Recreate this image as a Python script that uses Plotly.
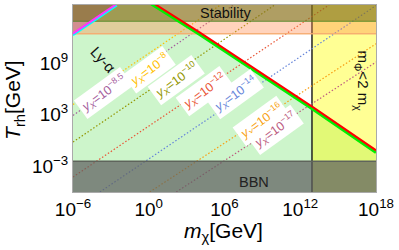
import numpy as np
import plotly.graph_objects as go

# ---------------- data ----------------
x_tick_vals = [1e-6, 1e0, 1e6, 1e12, 1e18]
x_tick_text = ["10<sup>−6</sup>", "10<sup>0</sup>", "10<sup>6</sup>", "10<sup>12</sup>", "10<sup>18</sup>"]
y_tick_vals = [1e-3, 1e3, 1e9, 1e15]
y_tick_text = ["10<sup>−3</sup>", "10<sup>3</sup>", "10<sup>9</sup>", "10<sup>15</sup>"]

# upper boundary of the allowed (green) region: red curve and green companion
red_m = [1e0, 1e4, 1e13, 1e18]
red_T = [2.3e16, 4.3e12, 8.0e3, 7.2e-2]
green_T = [1.3e16, 2.4e12, 4.5e3, 4.0e-2]

# Lyman-alpha boundary: magenta curve and cyan companion
lya_m = [1e-6, 3e-3]
lya_T = [2.95e12, 8.9e15]
cyan_T = [1.9e12, 5.6e15]

m_phi_limit = 8.5e12      # m_Phi < 2 m_chi for m_chi above this
T_bbn = 3.8e-3            # BBN bound
T_band = 2.75e12          # lower edge of the orange band
T_stability = 8.0e13      # lower edge of the stability band

# y_X contours (entry / exit points)
yx_names = ["10<sup>−8</sup>", "10<sup>−8.5</sup>", "10<sup>−10</sup>", "10<sup>−12</sup>",
            "10<sup>−14</sup>", "10<sup>−16</sup>", "10<sup>−17</sup>"]
yx_m = [[1e-6, 4.8e5], [1e-6, 5.1e6], [1e-6, 9.5e9], [1e-6, 1.9e14],
        [1.35e-4, 1e18], [1.2, 1e18], [151, 1e18]]
yx_T = [[1.6e4, 6.3e15], [8.5e2, 6.3e15], [0.66, 6.3e15], [5.6e-5, 6.3e15],
        [1e-6, 5.5e15], [1e-6, 1.9e11], [1e-6, 1.4e9]]
yx_colors = ["#FFBF00", "#A5609D", "#929600", "#E95536", "#6685D9", "#F89F13", "#BC5B80"]
# label anchor points (m, T)
yx_label_m = [1.0, 2.8e-4, 1.6e2, 2.6e4, 7.4e6, 8.3e8, 1.05e10]
yx_label_T = [1.9e8, 3.1e5, 1.0e7, 5.4e5, 2.4e5, 1.7e2, 15.0]

x_lo, x_hi = 1e-6, 1e18
y_lo, y_hi = 1e-6, 10 ** 15.8
FONT = "Liberation Sans, Arial, Helvetica, sans-serif"

fig = go.Figure()

def poly(xs, ys, color):
    fig.add_trace(go.Scatter(x=xs, y=ys, mode="lines", fill="toself", fillcolor=color,
                             line=dict(width=0, color=color), hoverinfo="skip", showlegend=False))

# green allowed region below red boundary
poly([1e-6, 1e-6] + red_m + [1e18], [1e-7, red_T[0]] + red_T + [1e-7], "#cdf5cb")
# yellow region m_Phi < 2 m_chi (translucent so overlap turns lime)
poly([m_phi_limit, 1e19, 1e19, m_phi_limit], [1e-7, 1e-7, 1e17, 1e17], "rgba(255,255,0,0.42)")
# purple Lyman-alpha excluded corner
poly([1e-6, lya_m[0], lya_m[1] * 10, 1e-6], [lya_T[0], lya_T[0], lya_T[1] * 10, lya_T[1] * 10],
     "rgba(175,110,175,0.75)")

# vertical line
fig.add_trace(go.Scatter(x=[m_phi_limit, m_phi_limit], y=[1e-7, 1e17], mode="lines",
                         line=dict(color="#222222", width=1.5), hoverinfo="skip", showlegend=False))

# y_X dotted contours
for xs, ys, c in zip(yx_m, yx_T, yx_colors):
    fig.add_trace(go.Scatter(x=xs, y=ys, mode="lines", line=dict(color=c, width=1.2, dash="1.5px,2px"),
                             hoverinfo="skip", showlegend=False))

# orange band and stability band
poly([1e-7, 1e19, 1e19, 1e-7], [T_band, T_band, 1e17, 1e17], "rgba(255,140,80,0.38)")
poly([1e-7, 1e19, 1e19, 1e-7], [T_stability, T_stability, 1e17, 1e17], "rgba(95,105,10,0.50)")
fig.add_trace(go.Scatter(x=[1e-7, 1e19], y=[T_stability, T_stability], mode="lines",
                         line=dict(color="rgba(70,130,30,0.8)", width=1), hoverinfo="skip", showlegend=False))
fig.add_trace(go.Scatter(x=[1e-7, 1e19], y=[T_band, T_band], mode="lines",
                         line=dict(color="rgba(245,170,110,0.9)", width=1.5), hoverinfo="skip", showlegend=False))
# BBN band
poly([1e-7, 1e19, 1e19, 1e-7], [1e-7, 1e-7, T_bbn, T_bbn], "rgba(95,95,95,0.72)")
fig.add_trace(go.Scatter(x=[1e-7, 1e19], y=[T_bbn, T_bbn], mode="lines",
                         line=dict(color="#5f645c", width=1.5), hoverinfo="skip", showlegend=False))

# boundary curves
fig.add_trace(go.Scatter(x=red_m, y=green_T, mode="lines", line=dict(color="#00ee00", width=3),
                         hoverinfo="skip", showlegend=False))
fig.add_trace(go.Scatter(x=red_m, y=red_T, mode="lines", line=dict(color="#ff0000", width=2),
                         hoverinfo="skip", showlegend=False))
fig.add_trace(go.Scatter(x=lya_m, y=cyan_T, mode="lines",
                         line=dict(color="#00ffff", width=2), hoverinfo="skip", showlegend=False))
fig.add_trace(go.Scatter(x=lya_m, y=lya_T, mode="lines", line=dict(color="#ff33ff", width=2),
                         hoverinfo="skip", showlegend=False))

ann = []
for name, c, lm, lt in zip(yx_names, yx_colors, yx_label_m, yx_label_T):
    ann.append(dict(x=np.log10(lm), y=np.log10(lt), xref="x", yref="y", showarrow=False,
                    xanchor="center", yanchor="middle",
                    text=f"<i>y</i><sub><i>X</i></sub>={name}", textangle=-36,
                    font=dict(family=FONT, size=12.5, color=c), bgcolor="white", borderpad=2))

ann += [
    dict(x=np.log10(1.4e6), y=np.log10(7.5e14), xref="x", yref="y", showarrow=False, text="Stability",
         xanchor="center", yanchor="middle", font=dict(family=FONT, size=14.5, color="#111111")),
    dict(x=np.log10(2.3e8), y=np.log10(1.35e-5), xref="x", yref="y", showarrow=False, text="BBN",
         xanchor="center", yanchor="middle", font=dict(family=FONT, size=14.5, color="#222222")),
    dict(x=np.log10(2.5e-4), y=np.log10(3e9), xref="x", yref="y", showarrow=False, text="Ly‑α",
         xanchor="center", yanchor="middle", textangle=48, font=dict(family=FONT, size=15, color="#111111")),
    dict(x=np.log10(7.8e16), y=np.log10(1.0e7), xref="x", yref="y", showarrow=False,
         xanchor="center", yanchor="middle",
         text="m<sub>Φ</sub><2 m<sub>χ</sub>", textangle=90, font=dict(family=FONT, size=15, color="#111111")),
    dict(x=0.498, y=-0.215, xref="paper", yref="paper", showarrow=False, xanchor="center", yanchor="middle",
         text="<i>m</i><sub>χ</sub>[GeV]", font=dict(family=FONT, size=21, color="black")),
    dict(x=-0.193, y=0.49, xref="paper", yref="paper", showarrow=False, textangle=-90,
         xanchor="center", yanchor="middle",
         text="<i>T</i><sub>rh</sub>[GeV]", font=dict(family=FONT, size=21, color="black")),
]

fig.update_layout(
    width=399, height=250, margin=dict(l=73, r=23, t=5, b=58, autoexpand=False),
    paper_bgcolor="white", plot_bgcolor="white", annotations=ann, showlegend=False,
    font=dict(family=FONT, size=19, color="black"),
)
fig.update_xaxes(type="log", range=[np.log10(x_lo), np.log10(x_hi)], tickvals=x_tick_vals,
                 ticktext=x_tick_text, showgrid=False, zeroline=False, showline=True, mirror=True,
                 linecolor="#aaaaaa", linewidth=1, ticks="", tickfont=dict(size=19), automargin=False)
fig.update_yaxes(type="log", range=[np.log10(y_lo), np.log10(y_hi)], tickvals=y_tick_vals,
                 ticktext=y_tick_text, showgrid=False, zeroline=False, showline=True, mirror=True,
                 linecolor="#aaaaaa", linewidth=1, ticks="", tickfont=dict(size=19), automargin=False)

fig.write_html("out.html", config={"displayModeBar": False},
               post_script="document.body.style.margin='0';document.body.style.overflow='hidden';")
